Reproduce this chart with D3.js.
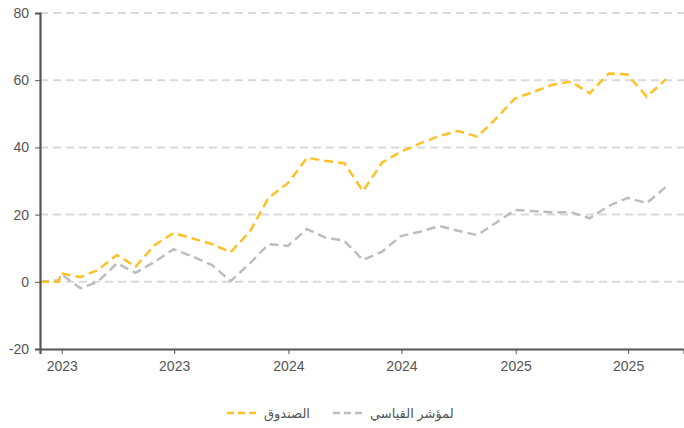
<!DOCTYPE html>
<html>
<head>
<meta charset="utf-8">
<script src="https://cdn.jsdelivr.net/npm/d3@7"></script>
<style>
  body { margin: 0; background: #fff; }
  text { font-family: "Liberation Sans", Arial, "DejaVu Sans", sans-serif; }
</style>
</head>
<body>
<svg id="chart"></svg>
<script>
// month-end dates, plus the two start points
const dates = ["2022-11-27", "2022-12-27", "2022-12-31",
  "2023-01-31", "2023-02-28", "2023-03-31", "2023-04-30", "2023-05-31", "2023-06-30",
  "2023-07-31", "2023-08-31", "2023-09-30", "2023-10-31", "2023-11-30", "2023-12-31",
  "2024-01-31", "2024-02-29", "2024-03-31", "2024-04-30", "2024-05-31", "2024-06-30",
  "2024-07-31", "2024-08-31", "2024-09-30", "2024-10-31", "2024-11-30", "2024-12-31",
  "2025-01-31", "2025-02-28", "2025-03-31", "2025-04-30", "2025-05-31", "2025-06-30",
  "2025-07-31", "2025-08-31"];

const fund = [0, 0, 2.5,
  1.4, 3.5, 8, 4.5, 11, 14.5,
  12.9, 11.2, 8.8, 15, 25, 29.3,
  36.9, 36, 35.3, 27, 35.5, 38.7,
  41.2, 43.4, 44.9, 43.2, 48.5, 54.6,
  56.6, 58.6, 59.6, 56.1, 62, 61.7,
  55.1, 60.3];

const bench = [0, 0.5, 2.3,
  -1.9, 0, 5.5, 2.7, 6, 9.7,
  7.5, 5, 0.2, 5.5, 11.2, 10.7,
  15.7, 13.2, 12.2, 6.5, 9, 13.6,
  14.9, 16.6, 15.2, 13.9, 17.5, 21.4,
  21, 20.7, 20.7, 18.9, 22.6, 25,
  23.4, 28.3];

const yTicks = [-20, 0, 20, 40, 60, 80];
const seriesNames = ["الصندوق", "لمؤشر القياسي"];
const seriesColors = ["#fdc12a", "#bdbdbd"];

const W = 684, H = 428;
const margin = { top: 13, right: 0, bottom: 79, left: 40 };
const parse = d3.timeParse("%Y-%m-%d");

const svg = d3.select("#chart").attr("width", W).attr("height", H);

const x = d3.scaleTime()
  .domain([parse("2022-11-27"), parse("2025-09-29")])
  .range([margin.left, W - margin.right]);
const y = d3.scaleLinear()
  .domain([-20, 80])
  .range([H - margin.bottom, margin.top]);

// grid
svg.append("g")
  .selectAll("line")
  .data(yTicks.filter(d => d > -20))
  .enter().append("line")
  .attr("x1", margin.left).attr("x2", W)
  .attr("y1", d => y(d)).attr("y2", d => y(d))
  .attr("stroke", "#d9d9d9")
  .attr("stroke-width", 2)
  .attr("stroke-dasharray", "8,5");

// lines
const line = vals => d3.line()
  .x((d, i) => x(parse(dates[i])))
  .y(d => y(d))(vals);

[bench, fund].forEach((vals, k) => {
  svg.append("path")
    .attr("d", line(vals))
    .attr("fill", "none")
    .attr("stroke", k === 1 ? seriesColors[0] : seriesColors[1])
    .attr("stroke-width", 2.5)
    .attr("stroke-dasharray", "9,5");
});

// y axis
const yAxis = svg.append("g")
  .attr("transform", "translate(" + margin.left + ",0)")
  .call(d3.axisLeft(y).tickValues(yTicks).tickFormat(d => String(d)).tickSize(5).tickPadding(6));
yAxis.select(".domain").attr("stroke", "#555").attr("stroke-width", 2.2);
yAxis.selectAll(".tick line").attr("stroke", "#555");
yAxis.selectAll(".tick text").attr("fill", "#555").style("font-size", "14px");

// x axis
const xAxis = svg.append("g")
  .attr("transform", "translate(0," + (H - margin.bottom) + ")")
  .call(d3.axisBottom(x).ticks(d3.timeMonth.every(6)).tickFormat(d3.timeFormat("%Y"))
    .tickSizeOuter(0).tickSize(5).tickPadding(7));
xAxis.select(".domain").attr("stroke", "#555").attr("stroke-width", 2.2);
xAxis.selectAll(".tick line").attr("stroke", "#555");
xAxis.selectAll(".tick text").attr("fill", "#555").style("font-size", "14px");

// legend
const legend = svg.append("g").attr("transform", "translate(0,413)");
const legendX = [227, 333];
seriesNames.forEach((name, i) => {
  legend.append("line")
    .attr("x1", legendX[i]).attr("x2", legendX[i] + 30)
    .attr("y1", 0).attr("y2", 0)
    .attr("stroke", seriesColors[i])
    .attr("stroke-width", 2.5)
    .attr("stroke-dasharray", "7,4");
  legend.append("text")
    .attr("x", legendX[i] + 37)
    .attr("y", 4.5)
    .attr("fill", "#555")
    .style("font-size", "13px")
    .text(name);
});
</script>
</body>
</html>
